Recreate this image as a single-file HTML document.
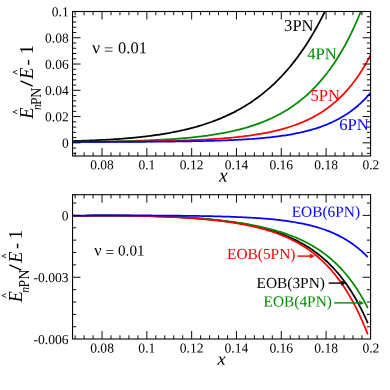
<!DOCTYPE html>
<html><head><meta charset="utf-8"><style>
html,body{margin:0;padding:0;background:#fff;}
svg{display:block;font-family:"Liberation Serif", serif;will-change:transform;}
</style></head><body>
<svg width="390" height="390" viewBox="0 0 390 390">
<rect width="390" height="390" fill="#fff"/>
<clipPath id="c1"><rect x="72.55" y="11.5" width="298.05" height="144.5"/></clipPath>
<clipPath id="c2"><rect x="72.55" y="194.7" width="298.05" height="144.3"/></clipPath>
<path d="M72.64,141.05 L74.14,141.01 L75.64,140.97 L77.14,140.93 L78.64,140.88 L80.14,140.84 L81.64,140.79 L83.13,140.74 L84.63,140.69 L86.13,140.63 L87.63,140.58 L89.13,140.52 L90.63,140.46 L92.13,140.40 L93.63,140.34 L95.13,140.27 L96.63,140.21 L98.13,140.14 L99.63,140.07 L101.13,139.99 L102.63,139.92 L104.12,139.84 L105.62,139.76 L107.12,139.67 L108.62,139.59 L110.12,139.50 L111.62,139.41 L113.12,139.31 L114.62,139.21 L116.12,139.11 L117.62,139.01 L119.12,138.90 L120.62,138.79 L122.12,138.68 L123.62,138.57 L125.11,138.45 L126.61,138.32 L128.11,138.20 L129.61,138.07 L131.11,137.93 L132.61,137.79 L134.11,137.65 L135.61,137.51 L137.11,137.36 L138.61,137.20 L140.11,137.04 L141.61,136.88 L143.11,136.71 L144.61,136.54 L146.11,136.36 L147.60,136.18 L149.10,136.00 L150.60,135.80 L152.10,135.61 L153.60,135.40 L155.10,135.20 L156.60,134.98 L158.10,134.76 L159.60,134.54 L161.10,134.31 L162.60,134.07 L164.10,133.83 L165.60,133.58 L167.10,133.32 L168.59,133.06 L170.09,132.79 L171.59,132.51 L173.09,132.23 L174.59,131.93 L176.09,131.64 L177.59,131.33 L179.09,131.01 L180.59,130.69 L182.09,130.36 L183.59,130.02 L185.09,129.67 L186.59,129.32 L188.09,128.95 L189.58,128.58 L191.08,128.19 L192.58,127.80 L194.08,127.40 L195.58,126.98 L197.08,126.56 L198.58,126.13 L200.08,125.68 L201.58,125.23 L203.08,124.76 L204.58,124.28 L206.08,123.79 L207.58,123.29 L209.08,122.78 L210.58,122.25 L212.07,121.71 L213.57,121.16 L215.07,120.60 L216.57,120.02 L218.07,119.42 L219.57,118.82 L221.07,118.20 L222.57,117.56 L224.07,116.91 L225.57,116.24 L227.07,115.56 L228.57,114.86 L230.07,114.14 L231.57,113.41 L233.06,112.66 L234.56,111.90 L236.06,111.11 L237.56,110.31 L239.06,109.48 L240.56,108.64 L242.06,107.78 L243.56,106.90 L245.06,106.00 L246.56,105.07 L248.06,104.13 L249.56,103.16 L251.06,102.17 L252.56,101.16 L254.05,100.13 L255.55,99.07 L257.05,97.98 L258.55,96.87 L260.05,95.74 L261.55,94.58 L263.05,93.39 L264.55,92.18 L266.05,90.93 L267.55,89.66 L269.05,88.36 L270.55,87.03 L272.05,85.67 L273.55,84.28 L275.04,82.86 L276.54,81.40 L278.04,79.91 L279.54,78.39 L281.04,76.83 L282.54,75.23 L284.04,73.60 L285.54,71.94 L287.04,70.23 L288.54,68.48 L290.04,66.70 L291.54,64.87 L293.04,63.01 L294.54,61.10 L296.04,59.14 L297.53,57.15 L299.03,55.10 L300.53,53.01 L302.03,50.87 L303.53,48.69 L305.03,46.45 L306.53,44.16 L308.03,41.82 L309.53,39.43 L311.03,36.98 L312.53,34.48 L314.03,31.92 L315.53,29.30 L317.03,26.62 L318.52,23.88 L320.02,21.07 L321.52,18.21 L323.02,15.27 L324.52,12.27 L326.02,9.20 L327.52,6.06 L329.02,2.85 L330.52,-0.44 L332.02,-3.80 L333.52,-7.24 L335.02,-10.75 L336.52,-14.35 L338.02,-18.04 L339.51,-21.80 L341.01,-25.66 L342.51,-29.60 L344.01,-33.64 L345.51,-37.77 L347.01,-41.99 L348.51,-46.32 L350.01,-50.74 L351.51,-55.27 L353.01,-59.90 L354.51,-64.64 L356.01,-69.49 L357.51,-74.46 L359.01,-79.54 L360.50,-84.74 L362.00,-90.07 L363.50,-95.52 L365.00,-101.10 L366.50,-106.81 L368.00,-112.65 L369.50,-118.64 L371.00,-124.76" fill="none" stroke="#000" stroke-width="1.75" stroke-linejoin="round" clip-path="url(#c1)"/>
<path d="M72.64,141.77 L74.14,141.76 L75.64,141.75 L77.14,141.74 L78.64,141.73 L80.14,141.72 L81.64,141.71 L83.13,141.70 L84.63,141.68 L86.13,141.67 L87.63,141.66 L89.13,141.64 L90.63,141.63 L92.13,141.61 L93.63,141.60 L95.13,141.58 L96.63,141.56 L98.13,141.54 L99.63,141.52 L101.13,141.50 L102.63,141.48 L104.12,141.46 L105.62,141.44 L107.12,141.42 L108.62,141.39 L110.12,141.37 L111.62,141.34 L113.12,141.32 L114.62,141.29 L116.12,141.26 L117.62,141.23 L119.12,141.20 L120.62,141.17 L122.12,141.14 L123.62,141.10 L125.11,141.07 L126.61,141.03 L128.11,140.99 L129.61,140.95 L131.11,140.91 L132.61,140.87 L134.11,140.83 L135.61,140.78 L137.11,140.74 L138.61,140.69 L140.11,140.64 L141.61,140.59 L143.11,140.53 L144.61,140.48 L146.11,140.42 L147.60,140.36 L149.10,140.30 L150.60,140.24 L152.10,140.17 L153.60,140.11 L155.10,140.04 L156.60,139.97 L158.10,139.89 L159.60,139.81 L161.10,139.74 L162.60,139.65 L164.10,139.57 L165.60,139.48 L167.10,139.39 L168.59,139.30 L170.09,139.21 L171.59,139.11 L173.09,139.01 L174.59,138.90 L176.09,138.79 L177.59,138.68 L179.09,138.57 L180.59,138.45 L182.09,138.32 L183.59,138.20 L185.09,138.07 L186.59,137.93 L188.09,137.80 L189.58,137.65 L191.08,137.51 L192.58,137.35 L194.08,137.20 L195.58,137.04 L197.08,136.87 L198.58,136.70 L200.08,136.53 L201.58,136.34 L203.08,136.16 L204.58,135.97 L206.08,135.77 L207.58,135.56 L209.08,135.35 L210.58,135.14 L212.07,134.91 L213.57,134.69 L215.07,134.45 L216.57,134.21 L218.07,133.96 L219.57,133.70 L221.07,133.43 L222.57,133.16 L224.07,132.88 L225.57,132.59 L227.07,132.29 L228.57,131.99 L230.07,131.67 L231.57,131.35 L233.06,131.01 L234.56,130.67 L236.06,130.32 L237.56,129.95 L239.06,129.58 L240.56,129.19 L242.06,128.80 L243.56,128.39 L245.06,127.97 L246.56,127.54 L248.06,127.10 L249.56,126.64 L251.06,126.17 L252.56,125.69 L254.05,125.19 L255.55,124.68 L257.05,124.16 L258.55,123.62 L260.05,123.06 L261.55,122.49 L263.05,121.90 L264.55,121.30 L266.05,120.68 L267.55,120.04 L269.05,119.38 L270.55,118.71 L272.05,118.01 L273.55,117.30 L275.04,116.56 L276.54,115.81 L278.04,115.03 L279.54,114.23 L281.04,113.41 L282.54,112.57 L284.04,111.70 L285.54,110.81 L287.04,109.89 L288.54,108.95 L290.04,107.98 L291.54,106.98 L293.04,105.96 L294.54,104.90 L296.04,103.82 L297.53,102.71 L299.03,101.56 L300.53,100.38 L302.03,99.17 L303.53,97.93 L305.03,96.65 L306.53,95.33 L308.03,93.98 L309.53,92.58 L311.03,91.15 L312.53,89.68 L314.03,88.17 L315.53,86.61 L317.03,85.02 L318.52,83.37 L320.02,81.68 L321.52,79.94 L323.02,78.15 L324.52,76.31 L326.02,74.42 L327.52,72.48 L329.02,70.48 L330.52,68.42 L332.02,66.30 L333.52,64.13 L335.02,61.89 L336.52,59.59 L338.02,57.22 L339.51,54.79 L341.01,52.28 L342.51,49.71 L344.01,47.06 L345.51,44.33 L347.01,41.53 L348.51,38.64 L350.01,35.67 L351.51,32.62 L353.01,29.48 L354.51,26.25 L356.01,22.92 L357.51,19.50 L359.01,15.98 L360.50,12.35 L362.00,8.62 L363.50,4.78 L365.00,0.83 L366.50,-3.23 L368.00,-7.42 L369.50,-11.73 L371.00,-16.16" fill="none" stroke="#008a00" stroke-width="1.75" stroke-linejoin="round" clip-path="url(#c1)"/>
<path d="M72.64,141.88 L74.14,141.87 L75.64,141.87 L77.14,141.86 L78.64,141.86 L80.14,141.86 L81.64,141.85 L83.13,141.85 L84.63,141.84 L86.13,141.84 L87.63,141.83 L89.13,141.83 L90.63,141.82 L92.13,141.81 L93.63,141.81 L95.13,141.80 L96.63,141.79 L98.13,141.79 L99.63,141.78 L101.13,141.77 L102.63,141.76 L104.12,141.76 L105.62,141.75 L107.12,141.74 L108.62,141.73 L110.12,141.72 L111.62,141.71 L113.12,141.70 L114.62,141.69 L116.12,141.68 L117.62,141.67 L119.12,141.66 L120.62,141.64 L122.12,141.63 L123.62,141.62 L125.11,141.61 L126.61,141.59 L128.11,141.58 L129.61,141.56 L131.11,141.55 L132.61,141.53 L134.11,141.51 L135.61,141.50 L137.11,141.48 L138.61,141.46 L140.11,141.44 L141.61,141.42 L143.11,141.40 L144.61,141.38 L146.11,141.36 L147.60,141.33 L149.10,141.31 L150.60,141.29 L152.10,141.26 L153.60,141.24 L155.10,141.21 L156.60,141.18 L158.10,141.15 L159.60,141.12 L161.10,141.09 L162.60,141.06 L164.10,141.03 L165.60,140.99 L167.10,140.96 L168.59,140.92 L170.09,140.88 L171.59,140.85 L173.09,140.81 L174.59,140.76 L176.09,140.72 L177.59,140.68 L179.09,140.63 L180.59,140.58 L182.09,140.54 L183.59,140.49 L185.09,140.43 L186.59,140.38 L188.09,140.32 L189.58,140.27 L191.08,140.21 L192.58,140.15 L194.08,140.08 L195.58,140.02 L197.08,139.95 L198.58,139.88 L200.08,139.81 L201.58,139.74 L203.08,139.66 L204.58,139.58 L206.08,139.50 L207.58,139.42 L209.08,139.33 L210.58,139.24 L212.07,139.15 L213.57,139.05 L215.07,138.96 L216.57,138.85 L218.07,138.75 L219.57,138.64 L221.07,138.53 L222.57,138.41 L224.07,138.30 L225.57,138.17 L227.07,138.05 L228.57,137.92 L230.07,137.78 L231.57,137.64 L233.06,137.50 L234.56,137.35 L236.06,137.20 L237.56,137.04 L239.06,136.88 L240.56,136.71 L242.06,136.53 L243.56,136.36 L245.06,136.17 L246.56,135.98 L248.06,135.78 L249.56,135.58 L251.06,135.37 L252.56,135.15 L254.05,134.93 L255.55,134.70 L257.05,134.46 L258.55,134.22 L260.05,133.96 L261.55,133.70 L263.05,133.43 L264.55,133.16 L266.05,132.87 L267.55,132.57 L269.05,132.27 L270.55,131.95 L272.05,131.62 L273.55,131.29 L275.04,130.94 L276.54,130.58 L278.04,130.21 L279.54,129.83 L281.04,129.43 L282.54,129.03 L284.04,128.61 L285.54,128.17 L287.04,127.72 L288.54,127.26 L290.04,126.78 L291.54,126.29 L293.04,125.78 L294.54,125.26 L296.04,124.71 L297.53,124.15 L299.03,123.57 L300.53,122.98 L302.03,122.36 L303.53,121.72 L305.03,121.06 L306.53,120.38 L308.03,119.68 L309.53,118.95 L311.03,118.20 L312.53,117.43 L314.03,116.63 L315.53,115.80 L317.03,114.95 L318.52,114.06 L320.02,113.15 L321.52,112.21 L323.02,111.23 L324.52,110.23 L326.02,109.19 L327.52,108.11 L329.02,107.00 L330.52,105.85 L332.02,104.66 L333.52,103.43 L335.02,102.16 L336.52,100.85 L338.02,99.49 L339.51,98.09 L341.01,96.63 L342.51,95.13 L344.01,93.58 L345.51,91.97 L347.01,90.31 L348.51,88.59 L350.01,86.81 L351.51,84.96 L353.01,83.06 L354.51,81.09 L356.01,79.04 L357.51,76.93 L359.01,74.74 L360.50,72.48 L362.00,70.14 L363.50,67.71 L365.00,65.20 L366.50,62.59 L368.00,59.90 L369.50,57.11 L371.00,54.21" fill="none" stroke="#ff0000" stroke-width="1.75" stroke-linejoin="round" clip-path="url(#c1)"/>
<path d="M72.64,141.93 L74.14,141.93 L75.64,141.93 L77.14,141.93 L78.64,141.93 L80.14,141.93 L81.64,141.92 L83.13,141.92 L84.63,141.92 L86.13,141.92 L87.63,141.92 L89.13,141.92 L90.63,141.91 L92.13,141.91 L93.63,141.91 L95.13,141.91 L96.63,141.91 L98.13,141.90 L99.63,141.90 L101.13,141.90 L102.63,141.90 L104.12,141.89 L105.62,141.89 L107.12,141.89 L108.62,141.89 L110.12,141.88 L111.62,141.88 L113.12,141.88 L114.62,141.87 L116.12,141.87 L117.62,141.86 L119.12,141.86 L120.62,141.86 L122.12,141.85 L123.62,141.85 L125.11,141.84 L126.61,141.84 L128.11,141.83 L129.61,141.83 L131.11,141.82 L132.61,141.82 L134.11,141.81 L135.61,141.80 L137.11,141.80 L138.61,141.79 L140.11,141.78 L141.61,141.77 L143.11,141.77 L144.61,141.76 L146.11,141.75 L147.60,141.74 L149.10,141.73 L150.60,141.72 L152.10,141.71 L153.60,141.70 L155.10,141.69 L156.60,141.68 L158.10,141.67 L159.60,141.66 L161.10,141.65 L162.60,141.63 L164.10,141.62 L165.60,141.61 L167.10,141.59 L168.59,141.58 L170.09,141.56 L171.59,141.55 L173.09,141.53 L174.59,141.51 L176.09,141.50 L177.59,141.48 L179.09,141.46 L180.59,141.44 L182.09,141.42 L183.59,141.40 L185.09,141.38 L186.59,141.35 L188.09,141.33 L189.58,141.30 L191.08,141.28 L192.58,141.25 L194.08,141.22 L195.58,141.20 L197.08,141.17 L198.58,141.14 L200.08,141.10 L201.58,141.07 L203.08,141.04 L204.58,141.00 L206.08,140.97 L207.58,140.93 L209.08,140.89 L210.58,140.85 L212.07,140.81 L213.57,140.76 L215.07,140.72 L216.57,140.67 L218.07,140.62 L219.57,140.57 L221.07,140.52 L222.57,140.47 L224.07,140.41 L225.57,140.36 L227.07,140.30 L228.57,140.23 L230.07,140.17 L231.57,140.10 L233.06,140.04 L234.56,139.96 L236.06,139.89 L237.56,139.82 L239.06,139.74 L240.56,139.66 L242.06,139.57 L243.56,139.48 L245.06,139.39 L246.56,139.30 L248.06,139.20 L249.56,139.10 L251.06,139.00 L252.56,138.89 L254.05,138.78 L255.55,138.67 L257.05,138.55 L258.55,138.42 L260.05,138.30 L261.55,138.16 L263.05,138.03 L264.55,137.88 L266.05,137.74 L267.55,137.59 L269.05,137.43 L270.55,137.27 L272.05,137.10 L273.55,136.92 L275.04,136.74 L276.54,136.56 L278.04,136.36 L279.54,136.16 L281.04,135.96 L282.54,135.74 L284.04,135.52 L285.54,135.29 L287.04,135.05 L288.54,134.81 L290.04,134.55 L291.54,134.29 L293.04,134.02 L294.54,133.73 L296.04,133.44 L297.53,133.14 L299.03,132.82 L300.53,132.50 L302.03,132.16 L303.53,131.81 L305.03,131.45 L306.53,131.08 L308.03,130.69 L309.53,130.29 L311.03,129.88 L312.53,129.45 L314.03,129.00 L315.53,128.54 L317.03,128.06 L318.52,127.57 L320.02,127.06 L321.52,126.53 L323.02,125.98 L324.52,125.41 L326.02,124.82 L327.52,124.21 L329.02,123.57 L330.52,122.92 L332.02,122.24 L333.52,121.53 L335.02,120.80 L336.52,120.04 L338.02,119.26 L339.51,118.45 L341.01,117.60 L342.51,116.73 L344.01,115.82 L345.51,114.88 L347.01,113.91 L348.51,112.90 L350.01,111.85 L351.51,110.77 L353.01,109.64 L354.51,108.47 L356.01,107.26 L357.51,106.00 L359.01,104.70 L360.50,103.35 L362.00,101.94 L363.50,100.49 L365.00,98.98 L366.50,97.41 L368.00,95.78 L369.50,94.09 L371.00,92.34" fill="none" stroke="#0000ff" stroke-width="1.75" stroke-linejoin="round" clip-path="url(#c1)"/>
<path d="M72.64,215.90 L74.12,215.87 L75.61,215.85 L77.09,215.83 L78.57,215.82 L80.06,215.80 L81.54,215.78 L83.02,215.76 L84.51,215.75 L85.99,215.73 L87.47,215.72 L88.96,215.70 L90.44,215.69 L91.92,215.68 L93.41,215.67 L94.89,215.66 L96.37,215.65 L97.86,215.64 L99.34,215.64 L100.82,215.63 L102.31,215.62 L103.79,215.62 L105.27,215.62 L106.75,215.61 L108.24,215.61 L109.72,215.61 L111.20,215.61 L112.69,215.61 L114.17,215.62 L115.65,215.62 L117.14,215.63 L118.62,215.63 L120.10,215.64 L121.59,215.65 L123.07,215.66 L124.55,215.67 L126.04,215.68 L127.52,215.69 L129.00,215.71 L130.49,215.72 L131.97,215.74 L133.45,215.76 L134.94,215.78 L136.42,215.80 L137.90,215.82 L139.39,215.85 L140.87,215.87 L142.35,215.90 L143.84,215.93 L145.32,215.96 L146.80,215.99 L148.29,216.02 L149.77,216.06 L151.25,216.09 L152.74,216.13 L154.22,216.17 L155.70,216.21 L157.19,216.26 L158.67,216.30 L160.15,216.35 L161.64,216.40 L163.12,216.45 L164.60,216.51 L166.09,216.56 L167.57,216.62 L169.05,216.68 L170.54,216.74 L172.02,216.81 L173.50,216.87 L174.99,216.94 L176.47,217.01 L177.95,217.09 L179.44,217.17 L180.92,217.24 L182.40,217.33 L183.89,217.41 L185.37,217.50 L186.85,217.59 L188.34,217.68 L189.82,217.78 L191.30,217.88 L192.79,217.98 L194.27,218.09 L195.75,218.20 L197.23,218.31 L198.72,218.43 L200.20,218.55 L201.68,218.67 L203.17,218.80 L204.65,218.93 L206.13,219.07 L207.62,219.20 L209.10,219.35 L210.58,219.49 L212.07,219.64 L213.55,219.80 L215.03,219.96 L216.52,220.12 L218.00,220.29 L219.48,220.46 L220.97,220.64 L222.45,220.82 L223.93,221.01 L225.42,221.20 L226.90,221.40 L228.38,221.61 L229.87,221.81 L231.35,222.03 L232.83,222.25 L234.32,222.48 L235.80,222.71 L237.28,222.95 L238.77,223.19 L240.25,223.44 L241.73,223.70 L243.22,223.97 L244.70,224.24 L246.18,224.52 L247.67,224.81 L249.15,225.11 L250.63,225.41 L252.12,225.72 L253.60,226.04 L255.08,226.37 L256.57,226.71 L258.05,227.06 L259.53,227.42 L261.02,227.79 L262.50,228.17 L263.98,228.56 L265.47,228.96 L266.95,229.37 L268.43,229.79 L269.92,230.23 L271.40,230.68 L272.88,231.14 L274.37,231.61 L275.85,232.10 L277.33,232.60 L278.82,233.11 L280.30,233.64 L281.78,234.19 L283.27,234.75 L284.75,235.33 L286.23,235.93 L287.72,236.54 L289.20,237.17 L290.68,237.82 L292.16,238.49 L293.65,239.18 L295.13,239.89 L296.61,240.62 L298.10,241.37 L299.58,242.15 L301.06,242.95 L302.55,243.77 L304.03,244.62 L305.51,245.50 L307.00,246.40 L308.48,247.33 L309.96,248.28 L311.45,249.27 L312.93,250.29 L314.41,251.34 L315.90,252.42 L317.38,253.54 L318.86,254.69 L320.35,255.87 L321.83,257.10 L323.31,258.36 L324.80,259.66 L326.28,261.01 L327.76,262.40 L329.25,263.83 L330.73,265.31 L332.21,266.83 L333.70,268.41 L335.18,270.03 L336.66,271.71 L338.15,273.44 L339.63,275.23 L341.11,277.08 L342.60,278.98 L344.08,280.95 L345.56,282.99 L347.05,285.09 L348.53,287.26 L350.01,289.50 L351.50,291.82 L352.98,294.22 L354.46,296.69 L355.95,299.25 L357.43,301.90 L358.91,304.63 L360.40,307.45 L361.88,310.38 L363.36,313.40 L364.85,316.52 L366.33,319.75 L367.81,323.09" fill="none" stroke="#000" stroke-width="1.75" stroke-linejoin="round" clip-path="url(#c2)"/>
<path d="M72.64,215.86 L74.12,215.85 L75.61,215.83 L77.09,215.82 L78.57,215.81 L80.06,215.80 L81.54,215.79 L83.02,215.78 L84.51,215.77 L85.99,215.76 L87.47,215.75 L88.96,215.74 L90.44,215.74 L91.92,215.73 L93.41,215.72 L94.89,215.72 L96.37,215.71 L97.86,215.71 L99.34,215.71 L100.82,215.71 L102.31,215.71 L103.79,215.70 L105.27,215.70 L106.75,215.71 L108.24,215.71 L109.72,215.71 L111.20,215.71 L112.69,215.72 L114.17,215.72 L115.65,215.73 L117.14,215.74 L118.62,215.75 L120.10,215.75 L121.59,215.76 L123.07,215.78 L124.55,215.79 L126.04,215.80 L127.52,215.82 L129.00,215.83 L130.49,215.85 L131.97,215.87 L133.45,215.88 L134.94,215.90 L136.42,215.93 L137.90,215.95 L139.39,215.97 L140.87,216.00 L142.35,216.02 L143.84,216.05 L145.32,216.08 L146.80,216.11 L148.29,216.14 L149.77,216.18 L151.25,216.21 L152.74,216.25 L154.22,216.28 L155.70,216.32 L157.19,216.37 L158.67,216.41 L160.15,216.45 L161.64,216.50 L163.12,216.55 L164.60,216.60 L166.09,216.65 L167.57,216.70 L169.05,216.76 L170.54,216.82 L172.02,216.88 L173.50,216.94 L174.99,217.00 L176.47,217.07 L177.95,217.14 L179.44,217.21 L180.92,217.28 L182.40,217.36 L183.89,217.44 L185.37,217.52 L186.85,217.60 L188.34,217.69 L189.82,217.78 L191.30,217.87 L192.79,217.97 L194.27,218.06 L195.75,218.16 L197.23,218.27 L198.72,218.38 L200.20,218.49 L201.68,218.60 L203.17,218.72 L204.65,218.84 L206.13,218.96 L207.62,219.09 L209.10,219.22 L210.58,219.36 L212.07,219.50 L213.55,219.64 L215.03,219.79 L216.52,219.94 L218.00,220.10 L219.48,220.26 L220.97,220.42 L222.45,220.59 L223.93,220.76 L225.42,220.94 L226.90,221.12 L228.38,221.31 L229.87,221.50 L231.35,221.70 L232.83,221.90 L234.32,222.11 L235.80,222.32 L237.28,222.53 L238.77,222.76 L240.25,222.99 L241.73,223.22 L243.22,223.46 L244.70,223.71 L246.18,223.96 L247.67,224.22 L249.15,224.48 L250.63,224.76 L252.12,225.03 L253.60,225.32 L255.08,225.61 L256.57,225.92 L258.05,226.22 L259.53,226.54 L261.02,226.87 L262.50,227.20 L263.98,227.54 L265.47,227.89 L266.95,228.25 L268.43,228.62 L269.92,229.00 L271.40,229.39 L272.88,229.79 L274.37,230.20 L275.85,230.62 L277.33,231.05 L278.82,231.50 L280.30,231.96 L281.78,232.43 L283.27,232.91 L284.75,233.41 L286.23,233.92 L287.72,234.44 L289.20,234.98 L290.68,235.53 L292.16,236.10 L293.65,236.69 L295.13,237.29 L296.61,237.92 L298.10,238.55 L299.58,239.21 L301.06,239.89 L302.55,240.59 L304.03,241.31 L305.51,242.05 L307.00,242.81 L308.48,243.59 L309.96,244.40 L311.45,245.23 L312.93,246.09 L314.41,246.98 L315.90,247.89 L317.38,248.83 L318.86,249.80 L320.35,250.80 L321.83,251.84 L323.31,252.90 L324.80,254.00 L326.28,255.13 L327.76,256.30 L329.25,257.51 L330.73,258.76 L332.21,260.05 L333.70,261.38 L335.18,262.75 L336.66,264.17 L338.15,265.63 L339.63,267.15 L341.11,268.71 L342.60,270.33 L344.08,272.00 L345.56,273.72 L347.05,275.51 L348.53,277.35 L350.01,279.26 L351.50,281.24 L352.98,283.28 L354.46,285.39 L355.95,287.57 L357.43,289.83 L358.91,292.17 L360.40,294.59 L361.88,297.10 L363.36,299.69 L364.85,302.38 L366.33,305.16 L367.81,308.04" fill="none" stroke="#008a00" stroke-width="1.75" stroke-linejoin="round" clip-path="url(#c2)"/>
<path d="M72.64,215.95 L74.12,215.92 L75.61,215.89 L77.09,215.86 L78.57,215.84 L80.06,215.82 L81.54,215.80 L83.02,215.77 L84.51,215.75 L85.99,215.74 L87.47,215.72 L88.96,215.70 L90.44,215.69 L91.92,215.68 L93.41,215.67 L94.89,215.66 L96.37,215.65 L97.86,215.64 L99.34,215.63 L100.82,215.63 L102.31,215.62 L103.79,215.62 L105.27,215.62 L106.75,215.62 L108.24,215.62 L109.72,215.62 L111.20,215.63 L112.69,215.63 L114.17,215.64 L115.65,215.65 L117.14,215.66 L118.62,215.67 L120.10,215.68 L121.59,215.69 L123.07,215.71 L124.55,215.72 L126.04,215.74 L127.52,215.76 L129.00,215.78 L130.49,215.80 L131.97,215.82 L133.45,215.85 L134.94,215.87 L136.42,215.90 L137.90,215.93 L139.39,215.96 L140.87,215.99 L142.35,216.03 L143.84,216.06 L145.32,216.10 L146.80,216.14 L148.29,216.18 L149.77,216.22 L151.25,216.26 L152.74,216.31 L154.22,216.36 L155.70,216.40 L157.19,216.45 L158.67,216.51 L160.15,216.56 L161.64,216.62 L163.12,216.67 L164.60,216.73 L166.09,216.80 L167.57,216.86 L169.05,216.93 L170.54,216.99 L172.02,217.06 L173.50,217.14 L174.99,217.21 L176.47,217.29 L177.95,217.37 L179.44,217.45 L180.92,217.53 L182.40,217.62 L183.89,217.71 L185.37,217.80 L186.85,217.90 L188.34,217.99 L189.82,218.09 L191.30,218.20 L192.79,218.30 L194.27,218.41 L195.75,218.52 L197.23,218.64 L198.72,218.76 L200.20,218.88 L201.68,219.01 L203.17,219.14 L204.65,219.27 L206.13,219.41 L207.62,219.55 L209.10,219.69 L210.58,219.84 L212.07,219.99 L213.55,220.15 L215.03,220.31 L216.52,220.48 L218.00,220.65 L219.48,220.82 L220.97,221.00 L222.45,221.19 L223.93,221.38 L225.42,221.58 L226.90,221.78 L228.38,221.99 L229.87,222.20 L231.35,222.42 L232.83,222.65 L234.32,222.88 L235.80,223.12 L237.28,223.36 L238.77,223.62 L240.25,223.88 L241.73,224.14 L243.22,224.42 L244.70,224.70 L246.18,224.99 L247.67,225.29 L249.15,225.60 L250.63,225.92 L252.12,226.25 L253.60,226.58 L255.08,226.93 L256.57,227.29 L258.05,227.66 L259.53,228.03 L261.02,228.42 L262.50,228.82 L263.98,229.24 L265.47,229.66 L266.95,230.10 L268.43,230.55 L269.92,231.01 L271.40,231.49 L272.88,231.98 L274.37,232.49 L275.85,233.01 L277.33,233.55 L278.82,234.11 L280.30,234.68 L281.78,235.27 L283.27,235.87 L284.75,236.50 L286.23,237.15 L287.72,237.81 L289.20,238.50 L290.68,239.20 L292.16,239.93 L293.65,240.68 L295.13,241.45 L296.61,242.25 L298.10,243.08 L299.58,243.92 L301.06,244.80 L302.55,245.70 L304.03,246.63 L305.51,247.59 L307.00,248.59 L308.48,249.61 L309.96,250.66 L311.45,251.75 L312.93,252.87 L314.41,254.03 L315.90,255.23 L317.38,256.46 L318.86,257.74 L320.35,259.05 L321.83,260.41 L323.31,261.81 L324.80,263.26 L326.28,264.76 L327.76,266.30 L329.25,267.89 L330.73,269.54 L332.21,271.24 L333.70,272.99 L335.18,274.81 L336.66,276.68 L338.15,278.61 L339.63,280.61 L341.11,282.68 L342.60,284.82 L344.08,287.02 L345.56,289.30 L347.05,291.66 L348.53,294.09 L350.01,296.61 L351.50,299.22 L352.98,301.91 L354.46,304.69 L355.95,307.57 L357.43,310.54 L358.91,313.62 L360.40,316.81 L361.88,320.10 L363.36,323.51 L364.85,327.03 L366.33,330.68 L367.81,334.45" fill="none" stroke="#ff0000" stroke-width="1.75" stroke-linejoin="round" clip-path="url(#c2)"/>
<path d="M72.64,215.63 L74.12,215.62 L75.61,215.60 L77.09,215.59 L78.57,215.58 L80.06,215.57 L81.54,215.56 L83.02,215.55 L84.51,215.54 L85.99,215.53 L87.47,215.52 L88.96,215.51 L90.44,215.50 L91.92,215.49 L93.41,215.48 L94.89,215.48 L96.37,215.47 L97.86,215.46 L99.34,215.46 L100.82,215.45 L102.31,215.45 L103.79,215.44 L105.27,215.44 L106.75,215.43 L108.24,215.43 L109.72,215.43 L111.20,215.43 L112.69,215.42 L114.17,215.42 L115.65,215.42 L117.14,215.42 L118.62,215.42 L120.10,215.42 L121.59,215.42 L123.07,215.42 L124.55,215.42 L126.04,215.42 L127.52,215.42 L129.00,215.42 L130.49,215.42 L131.97,215.43 L133.45,215.43 L134.94,215.43 L136.42,215.44 L137.90,215.44 L139.39,215.44 L140.87,215.45 L142.35,215.45 L143.84,215.46 L145.32,215.47 L146.80,215.47 L148.29,215.48 L149.77,215.49 L151.25,215.49 L152.74,215.50 L154.22,215.51 L155.70,215.52 L157.19,215.53 L158.67,215.54 L160.15,215.54 L161.64,215.55 L163.12,215.57 L164.60,215.58 L166.09,215.59 L167.57,215.60 L169.05,215.61 L170.54,215.63 L172.02,215.64 L173.50,215.65 L174.99,215.67 L176.47,215.68 L177.95,215.70 L179.44,215.71 L180.92,215.73 L182.40,215.75 L183.89,215.76 L185.37,215.78 L186.85,215.80 L188.34,215.82 L189.82,215.84 L191.30,215.86 L192.79,215.88 L194.27,215.91 L195.75,215.93 L197.23,215.95 L198.72,215.98 L200.20,216.00 L201.68,216.03 L203.17,216.06 L204.65,216.08 L206.13,216.11 L207.62,216.14 L209.10,216.17 L210.58,216.21 L212.07,216.24 L213.55,216.27 L215.03,216.31 L216.52,216.35 L218.00,216.38 L219.48,216.42 L220.97,216.46 L222.45,216.51 L223.93,216.55 L225.42,216.60 L226.90,216.64 L228.38,216.69 L229.87,216.74 L231.35,216.79 L232.83,216.85 L234.32,216.90 L235.80,216.96 L237.28,217.02 L238.77,217.08 L240.25,217.15 L241.73,217.21 L243.22,217.28 L244.70,217.35 L246.18,217.43 L247.67,217.51 L249.15,217.58 L250.63,217.67 L252.12,217.75 L253.60,217.84 L255.08,217.93 L256.57,218.03 L258.05,218.13 L259.53,218.23 L261.02,218.34 L262.50,218.45 L263.98,218.56 L265.47,218.68 L266.95,218.80 L268.43,218.93 L269.92,219.07 L271.40,219.20 L272.88,219.35 L274.37,219.49 L275.85,219.65 L277.33,219.81 L278.82,219.97 L280.30,220.14 L281.78,220.32 L283.27,220.51 L284.75,220.70 L286.23,220.90 L287.72,221.10 L289.20,221.32 L290.68,221.54 L292.16,221.77 L293.65,222.01 L295.13,222.26 L296.61,222.52 L298.10,222.78 L299.58,223.06 L301.06,223.35 L302.55,223.65 L304.03,223.96 L305.51,224.28 L307.00,224.61 L308.48,224.96 L309.96,225.32 L311.45,225.69 L312.93,226.08 L314.41,226.48 L315.90,226.90 L317.38,227.33 L318.86,227.78 L320.35,228.24 L321.83,228.72 L323.31,229.22 L324.80,229.74 L326.28,230.28 L327.76,230.84 L329.25,231.42 L330.73,232.02 L332.21,232.65 L333.70,233.29 L335.18,233.96 L336.66,234.66 L338.15,235.38 L339.63,236.13 L341.11,236.91 L342.60,237.72 L344.08,238.55 L345.56,239.42 L347.05,240.32 L348.53,241.25 L350.01,242.22 L351.50,243.23 L352.98,244.27 L354.46,245.35 L355.95,246.47 L357.43,247.63 L358.91,248.84 L360.40,250.09 L361.88,251.39 L363.36,252.73 L364.85,254.13 L366.33,255.57 L367.81,257.08" fill="none" stroke="#0000ff" stroke-width="1.75" stroke-linejoin="round" clip-path="url(#c2)"/>
<line x1="75.15" y1="156.00" x2="75.15" y2="152.30" stroke="#000" stroke-width="0.95"/>
<line x1="75.15" y1="11.50" x2="75.15" y2="15.20" stroke="#000" stroke-width="0.95"/>
<line x1="84.12" y1="156.00" x2="84.12" y2="152.30" stroke="#000" stroke-width="0.95"/>
<line x1="84.12" y1="11.50" x2="84.12" y2="15.20" stroke="#000" stroke-width="0.95"/>
<line x1="93.08" y1="156.00" x2="93.08" y2="152.30" stroke="#000" stroke-width="0.95"/>
<line x1="93.08" y1="11.50" x2="93.08" y2="15.20" stroke="#000" stroke-width="0.95"/>
<line x1="102.04" y1="156.00" x2="102.04" y2="148.00" stroke="#000" stroke-width="0.95"/>
<line x1="102.04" y1="11.50" x2="102.04" y2="19.50" stroke="#000" stroke-width="0.95"/>
<text x="102.04" y="169.30" font-size="13.5" text-anchor="middle" fill="#000"  transform="rotate(0.03 102.04 169.30)" style="">0.08</text>
<line x1="111.00" y1="156.00" x2="111.00" y2="152.30" stroke="#000" stroke-width="0.95"/>
<line x1="111.00" y1="11.50" x2="111.00" y2="15.20" stroke="#000" stroke-width="0.95"/>
<line x1="119.96" y1="156.00" x2="119.96" y2="152.30" stroke="#000" stroke-width="0.95"/>
<line x1="119.96" y1="11.50" x2="119.96" y2="15.20" stroke="#000" stroke-width="0.95"/>
<line x1="128.93" y1="156.00" x2="128.93" y2="152.30" stroke="#000" stroke-width="0.95"/>
<line x1="128.93" y1="11.50" x2="128.93" y2="15.20" stroke="#000" stroke-width="0.95"/>
<line x1="137.89" y1="156.00" x2="137.89" y2="152.30" stroke="#000" stroke-width="0.95"/>
<line x1="137.89" y1="11.50" x2="137.89" y2="15.20" stroke="#000" stroke-width="0.95"/>
<line x1="146.85" y1="156.00" x2="146.85" y2="148.00" stroke="#000" stroke-width="0.95"/>
<line x1="146.85" y1="11.50" x2="146.85" y2="19.50" stroke="#000" stroke-width="0.95"/>
<text x="146.85" y="169.30" font-size="13.5" text-anchor="middle" fill="#000"  transform="rotate(0.03 146.85 169.30)" style="">0.1</text>
<line x1="155.81" y1="156.00" x2="155.81" y2="152.30" stroke="#000" stroke-width="0.95"/>
<line x1="155.81" y1="11.50" x2="155.81" y2="15.20" stroke="#000" stroke-width="0.95"/>
<line x1="164.77" y1="156.00" x2="164.77" y2="152.30" stroke="#000" stroke-width="0.95"/>
<line x1="164.77" y1="11.50" x2="164.77" y2="15.20" stroke="#000" stroke-width="0.95"/>
<line x1="173.74" y1="156.00" x2="173.74" y2="152.30" stroke="#000" stroke-width="0.95"/>
<line x1="173.74" y1="11.50" x2="173.74" y2="15.20" stroke="#000" stroke-width="0.95"/>
<line x1="182.70" y1="156.00" x2="182.70" y2="152.30" stroke="#000" stroke-width="0.95"/>
<line x1="182.70" y1="11.50" x2="182.70" y2="15.20" stroke="#000" stroke-width="0.95"/>
<line x1="191.66" y1="156.00" x2="191.66" y2="148.00" stroke="#000" stroke-width="0.95"/>
<line x1="191.66" y1="11.50" x2="191.66" y2="19.50" stroke="#000" stroke-width="0.95"/>
<text x="191.66" y="169.30" font-size="13.5" text-anchor="middle" fill="#000"  transform="rotate(0.03 191.66 169.30)" style="">0.12</text>
<line x1="200.62" y1="156.00" x2="200.62" y2="152.30" stroke="#000" stroke-width="0.95"/>
<line x1="200.62" y1="11.50" x2="200.62" y2="15.20" stroke="#000" stroke-width="0.95"/>
<line x1="209.58" y1="156.00" x2="209.58" y2="152.30" stroke="#000" stroke-width="0.95"/>
<line x1="209.58" y1="11.50" x2="209.58" y2="15.20" stroke="#000" stroke-width="0.95"/>
<line x1="218.55" y1="156.00" x2="218.55" y2="152.30" stroke="#000" stroke-width="0.95"/>
<line x1="218.55" y1="11.50" x2="218.55" y2="15.20" stroke="#000" stroke-width="0.95"/>
<line x1="227.51" y1="156.00" x2="227.51" y2="152.30" stroke="#000" stroke-width="0.95"/>
<line x1="227.51" y1="11.50" x2="227.51" y2="15.20" stroke="#000" stroke-width="0.95"/>
<line x1="236.47" y1="156.00" x2="236.47" y2="148.00" stroke="#000" stroke-width="0.95"/>
<line x1="236.47" y1="11.50" x2="236.47" y2="19.50" stroke="#000" stroke-width="0.95"/>
<text x="236.47" y="169.30" font-size="13.5" text-anchor="middle" fill="#000"  transform="rotate(0.03 236.47 169.30)" style="">0.14</text>
<line x1="245.43" y1="156.00" x2="245.43" y2="152.30" stroke="#000" stroke-width="0.95"/>
<line x1="245.43" y1="11.50" x2="245.43" y2="15.20" stroke="#000" stroke-width="0.95"/>
<line x1="254.39" y1="156.00" x2="254.39" y2="152.30" stroke="#000" stroke-width="0.95"/>
<line x1="254.39" y1="11.50" x2="254.39" y2="15.20" stroke="#000" stroke-width="0.95"/>
<line x1="263.36" y1="156.00" x2="263.36" y2="152.30" stroke="#000" stroke-width="0.95"/>
<line x1="263.36" y1="11.50" x2="263.36" y2="15.20" stroke="#000" stroke-width="0.95"/>
<line x1="272.32" y1="156.00" x2="272.32" y2="152.30" stroke="#000" stroke-width="0.95"/>
<line x1="272.32" y1="11.50" x2="272.32" y2="15.20" stroke="#000" stroke-width="0.95"/>
<line x1="281.28" y1="156.00" x2="281.28" y2="148.00" stroke="#000" stroke-width="0.95"/>
<line x1="281.28" y1="11.50" x2="281.28" y2="19.50" stroke="#000" stroke-width="0.95"/>
<text x="281.28" y="169.30" font-size="13.5" text-anchor="middle" fill="#000"  transform="rotate(0.03 281.28 169.30)" style="">0.16</text>
<line x1="290.24" y1="156.00" x2="290.24" y2="152.30" stroke="#000" stroke-width="0.95"/>
<line x1="290.24" y1="11.50" x2="290.24" y2="15.20" stroke="#000" stroke-width="0.95"/>
<line x1="299.20" y1="156.00" x2="299.20" y2="152.30" stroke="#000" stroke-width="0.95"/>
<line x1="299.20" y1="11.50" x2="299.20" y2="15.20" stroke="#000" stroke-width="0.95"/>
<line x1="308.17" y1="156.00" x2="308.17" y2="152.30" stroke="#000" stroke-width="0.95"/>
<line x1="308.17" y1="11.50" x2="308.17" y2="15.20" stroke="#000" stroke-width="0.95"/>
<line x1="317.13" y1="156.00" x2="317.13" y2="152.30" stroke="#000" stroke-width="0.95"/>
<line x1="317.13" y1="11.50" x2="317.13" y2="15.20" stroke="#000" stroke-width="0.95"/>
<line x1="326.09" y1="156.00" x2="326.09" y2="148.00" stroke="#000" stroke-width="0.95"/>
<line x1="326.09" y1="11.50" x2="326.09" y2="19.50" stroke="#000" stroke-width="0.95"/>
<text x="326.09" y="169.30" font-size="13.5" text-anchor="middle" fill="#000"  transform="rotate(0.03 326.09 169.30)" style="">0.18</text>
<line x1="335.05" y1="156.00" x2="335.05" y2="152.30" stroke="#000" stroke-width="0.95"/>
<line x1="335.05" y1="11.50" x2="335.05" y2="15.20" stroke="#000" stroke-width="0.95"/>
<line x1="344.01" y1="156.00" x2="344.01" y2="152.30" stroke="#000" stroke-width="0.95"/>
<line x1="344.01" y1="11.50" x2="344.01" y2="15.20" stroke="#000" stroke-width="0.95"/>
<line x1="352.98" y1="156.00" x2="352.98" y2="152.30" stroke="#000" stroke-width="0.95"/>
<line x1="352.98" y1="11.50" x2="352.98" y2="15.20" stroke="#000" stroke-width="0.95"/>
<line x1="361.94" y1="156.00" x2="361.94" y2="152.30" stroke="#000" stroke-width="0.95"/>
<line x1="361.94" y1="11.50" x2="361.94" y2="15.20" stroke="#000" stroke-width="0.95"/>
<text x="370.90" y="169.30" font-size="13.5" text-anchor="middle" fill="#000"  transform="rotate(0.03 370.90 169.30)" style="">0.2</text>
<line x1="72.55" y1="153.36" x2="76.25" y2="153.36" stroke="#000" stroke-width="0.95"/>
<line x1="370.60" y1="153.36" x2="366.90" y2="153.36" stroke="#000" stroke-width="0.95"/>
<line x1="72.55" y1="148.10" x2="76.25" y2="148.10" stroke="#000" stroke-width="0.95"/>
<line x1="370.60" y1="148.10" x2="366.90" y2="148.10" stroke="#000" stroke-width="0.95"/>
<line x1="72.55" y1="142.85" x2="80.55" y2="142.85" stroke="#000" stroke-width="0.95"/>
<line x1="370.60" y1="142.85" x2="362.60" y2="142.85" stroke="#000" stroke-width="0.95"/>
<line x1="72.55" y1="137.60" x2="76.25" y2="137.60" stroke="#000" stroke-width="0.95"/>
<line x1="370.60" y1="137.60" x2="366.90" y2="137.60" stroke="#000" stroke-width="0.95"/>
<line x1="72.55" y1="132.34" x2="76.25" y2="132.34" stroke="#000" stroke-width="0.95"/>
<line x1="370.60" y1="132.34" x2="366.90" y2="132.34" stroke="#000" stroke-width="0.95"/>
<line x1="72.55" y1="127.09" x2="76.25" y2="127.09" stroke="#000" stroke-width="0.95"/>
<line x1="370.60" y1="127.09" x2="366.90" y2="127.09" stroke="#000" stroke-width="0.95"/>
<line x1="72.55" y1="121.83" x2="76.25" y2="121.83" stroke="#000" stroke-width="0.95"/>
<line x1="370.60" y1="121.83" x2="366.90" y2="121.83" stroke="#000" stroke-width="0.95"/>
<line x1="72.55" y1="116.58" x2="80.55" y2="116.58" stroke="#000" stroke-width="0.95"/>
<line x1="370.60" y1="116.58" x2="362.60" y2="116.58" stroke="#000" stroke-width="0.95"/>
<line x1="72.55" y1="111.33" x2="76.25" y2="111.33" stroke="#000" stroke-width="0.95"/>
<line x1="370.60" y1="111.33" x2="366.90" y2="111.33" stroke="#000" stroke-width="0.95"/>
<line x1="72.55" y1="106.07" x2="76.25" y2="106.07" stroke="#000" stroke-width="0.95"/>
<line x1="370.60" y1="106.07" x2="366.90" y2="106.07" stroke="#000" stroke-width="0.95"/>
<line x1="72.55" y1="100.82" x2="76.25" y2="100.82" stroke="#000" stroke-width="0.95"/>
<line x1="370.60" y1="100.82" x2="366.90" y2="100.82" stroke="#000" stroke-width="0.95"/>
<line x1="72.55" y1="95.56" x2="76.25" y2="95.56" stroke="#000" stroke-width="0.95"/>
<line x1="370.60" y1="95.56" x2="366.90" y2="95.56" stroke="#000" stroke-width="0.95"/>
<line x1="72.55" y1="90.31" x2="80.55" y2="90.31" stroke="#000" stroke-width="0.95"/>
<line x1="370.60" y1="90.31" x2="362.60" y2="90.31" stroke="#000" stroke-width="0.95"/>
<line x1="72.55" y1="85.06" x2="76.25" y2="85.06" stroke="#000" stroke-width="0.95"/>
<line x1="370.60" y1="85.06" x2="366.90" y2="85.06" stroke="#000" stroke-width="0.95"/>
<line x1="72.55" y1="79.80" x2="76.25" y2="79.80" stroke="#000" stroke-width="0.95"/>
<line x1="370.60" y1="79.80" x2="366.90" y2="79.80" stroke="#000" stroke-width="0.95"/>
<line x1="72.55" y1="74.55" x2="76.25" y2="74.55" stroke="#000" stroke-width="0.95"/>
<line x1="370.60" y1="74.55" x2="366.90" y2="74.55" stroke="#000" stroke-width="0.95"/>
<line x1="72.55" y1="69.29" x2="76.25" y2="69.29" stroke="#000" stroke-width="0.95"/>
<line x1="370.60" y1="69.29" x2="366.90" y2="69.29" stroke="#000" stroke-width="0.95"/>
<line x1="72.55" y1="64.04" x2="80.55" y2="64.04" stroke="#000" stroke-width="0.95"/>
<line x1="370.60" y1="64.04" x2="362.60" y2="64.04" stroke="#000" stroke-width="0.95"/>
<line x1="72.55" y1="58.79" x2="76.25" y2="58.79" stroke="#000" stroke-width="0.95"/>
<line x1="370.60" y1="58.79" x2="366.90" y2="58.79" stroke="#000" stroke-width="0.95"/>
<line x1="72.55" y1="53.53" x2="76.25" y2="53.53" stroke="#000" stroke-width="0.95"/>
<line x1="370.60" y1="53.53" x2="366.90" y2="53.53" stroke="#000" stroke-width="0.95"/>
<line x1="72.55" y1="48.28" x2="76.25" y2="48.28" stroke="#000" stroke-width="0.95"/>
<line x1="370.60" y1="48.28" x2="366.90" y2="48.28" stroke="#000" stroke-width="0.95"/>
<line x1="72.55" y1="43.02" x2="76.25" y2="43.02" stroke="#000" stroke-width="0.95"/>
<line x1="370.60" y1="43.02" x2="366.90" y2="43.02" stroke="#000" stroke-width="0.95"/>
<line x1="72.55" y1="37.77" x2="80.55" y2="37.77" stroke="#000" stroke-width="0.95"/>
<line x1="370.60" y1="37.77" x2="362.60" y2="37.77" stroke="#000" stroke-width="0.95"/>
<line x1="72.55" y1="32.52" x2="76.25" y2="32.52" stroke="#000" stroke-width="0.95"/>
<line x1="370.60" y1="32.52" x2="366.90" y2="32.52" stroke="#000" stroke-width="0.95"/>
<line x1="72.55" y1="27.26" x2="76.25" y2="27.26" stroke="#000" stroke-width="0.95"/>
<line x1="370.60" y1="27.26" x2="366.90" y2="27.26" stroke="#000" stroke-width="0.95"/>
<line x1="72.55" y1="22.01" x2="76.25" y2="22.01" stroke="#000" stroke-width="0.95"/>
<line x1="370.60" y1="22.01" x2="366.90" y2="22.01" stroke="#000" stroke-width="0.95"/>
<line x1="72.55" y1="16.75" x2="76.25" y2="16.75" stroke="#000" stroke-width="0.95"/>
<line x1="370.60" y1="16.75" x2="366.90" y2="16.75" stroke="#000" stroke-width="0.95"/>
<text x="68.65" y="16.25" font-size="13.5" text-anchor="end" fill="#000"  transform="rotate(0.03 68.65 16.25)" style="">0.1</text>
<text x="68.65" y="42.52" font-size="13.5" text-anchor="end" fill="#000"  transform="rotate(0.03 68.65 42.52)" style="">0.08</text>
<text x="68.65" y="68.79" font-size="13.5" text-anchor="end" fill="#000"  transform="rotate(0.03 68.65 68.79)" style="">0.06</text>
<text x="68.65" y="95.06" font-size="13.5" text-anchor="end" fill="#000"  transform="rotate(0.03 68.65 95.06)" style="">0.04</text>
<text x="68.65" y="121.33" font-size="13.5" text-anchor="end" fill="#000"  transform="rotate(0.03 68.65 121.33)" style="">0.02</text>
<text x="68.65" y="147.61" font-size="13.5" text-anchor="end" fill="#000"  transform="rotate(0.03 68.65 147.61)" style="">0</text>
<rect x="72.55" y="11.5" width="298.05" height="144.5" fill="none" stroke="#000" stroke-width="1.08"/>
<line x1="75.15" y1="339.00" x2="75.15" y2="335.30" stroke="#000" stroke-width="0.95"/>
<line x1="75.15" y1="194.70" x2="75.15" y2="198.40" stroke="#000" stroke-width="0.95"/>
<line x1="84.12" y1="339.00" x2="84.12" y2="335.30" stroke="#000" stroke-width="0.95"/>
<line x1="84.12" y1="194.70" x2="84.12" y2="198.40" stroke="#000" stroke-width="0.95"/>
<line x1="93.08" y1="339.00" x2="93.08" y2="335.30" stroke="#000" stroke-width="0.95"/>
<line x1="93.08" y1="194.70" x2="93.08" y2="198.40" stroke="#000" stroke-width="0.95"/>
<line x1="102.04" y1="339.00" x2="102.04" y2="331.00" stroke="#000" stroke-width="0.95"/>
<line x1="102.04" y1="194.70" x2="102.04" y2="202.70" stroke="#000" stroke-width="0.95"/>
<text x="102.04" y="352.50" font-size="13.6" text-anchor="middle" fill="#000"  transform="rotate(0.03 102.04 352.50)" style="">0.08</text>
<line x1="111.00" y1="339.00" x2="111.00" y2="335.30" stroke="#000" stroke-width="0.95"/>
<line x1="111.00" y1="194.70" x2="111.00" y2="198.40" stroke="#000" stroke-width="0.95"/>
<line x1="119.96" y1="339.00" x2="119.96" y2="335.30" stroke="#000" stroke-width="0.95"/>
<line x1="119.96" y1="194.70" x2="119.96" y2="198.40" stroke="#000" stroke-width="0.95"/>
<line x1="128.93" y1="339.00" x2="128.93" y2="335.30" stroke="#000" stroke-width="0.95"/>
<line x1="128.93" y1="194.70" x2="128.93" y2="198.40" stroke="#000" stroke-width="0.95"/>
<line x1="137.89" y1="339.00" x2="137.89" y2="335.30" stroke="#000" stroke-width="0.95"/>
<line x1="137.89" y1="194.70" x2="137.89" y2="198.40" stroke="#000" stroke-width="0.95"/>
<line x1="146.85" y1="339.00" x2="146.85" y2="331.00" stroke="#000" stroke-width="0.95"/>
<line x1="146.85" y1="194.70" x2="146.85" y2="202.70" stroke="#000" stroke-width="0.95"/>
<text x="146.85" y="352.50" font-size="13.6" text-anchor="middle" fill="#000"  transform="rotate(0.03 146.85 352.50)" style="">0.1</text>
<line x1="155.81" y1="339.00" x2="155.81" y2="335.30" stroke="#000" stroke-width="0.95"/>
<line x1="155.81" y1="194.70" x2="155.81" y2="198.40" stroke="#000" stroke-width="0.95"/>
<line x1="164.77" y1="339.00" x2="164.77" y2="335.30" stroke="#000" stroke-width="0.95"/>
<line x1="164.77" y1="194.70" x2="164.77" y2="198.40" stroke="#000" stroke-width="0.95"/>
<line x1="173.74" y1="339.00" x2="173.74" y2="335.30" stroke="#000" stroke-width="0.95"/>
<line x1="173.74" y1="194.70" x2="173.74" y2="198.40" stroke="#000" stroke-width="0.95"/>
<line x1="182.70" y1="339.00" x2="182.70" y2="335.30" stroke="#000" stroke-width="0.95"/>
<line x1="182.70" y1="194.70" x2="182.70" y2="198.40" stroke="#000" stroke-width="0.95"/>
<line x1="191.66" y1="339.00" x2="191.66" y2="331.00" stroke="#000" stroke-width="0.95"/>
<line x1="191.66" y1="194.70" x2="191.66" y2="202.70" stroke="#000" stroke-width="0.95"/>
<text x="191.66" y="352.50" font-size="13.6" text-anchor="middle" fill="#000"  transform="rotate(0.03 191.66 352.50)" style="">0.12</text>
<line x1="200.62" y1="339.00" x2="200.62" y2="335.30" stroke="#000" stroke-width="0.95"/>
<line x1="200.62" y1="194.70" x2="200.62" y2="198.40" stroke="#000" stroke-width="0.95"/>
<line x1="209.58" y1="339.00" x2="209.58" y2="335.30" stroke="#000" stroke-width="0.95"/>
<line x1="209.58" y1="194.70" x2="209.58" y2="198.40" stroke="#000" stroke-width="0.95"/>
<line x1="218.55" y1="339.00" x2="218.55" y2="335.30" stroke="#000" stroke-width="0.95"/>
<line x1="218.55" y1="194.70" x2="218.55" y2="198.40" stroke="#000" stroke-width="0.95"/>
<line x1="227.51" y1="339.00" x2="227.51" y2="335.30" stroke="#000" stroke-width="0.95"/>
<line x1="227.51" y1="194.70" x2="227.51" y2="198.40" stroke="#000" stroke-width="0.95"/>
<line x1="236.47" y1="339.00" x2="236.47" y2="331.00" stroke="#000" stroke-width="0.95"/>
<line x1="236.47" y1="194.70" x2="236.47" y2="202.70" stroke="#000" stroke-width="0.95"/>
<text x="236.47" y="352.50" font-size="13.6" text-anchor="middle" fill="#000"  transform="rotate(0.03 236.47 352.50)" style="">0.14</text>
<line x1="245.43" y1="339.00" x2="245.43" y2="335.30" stroke="#000" stroke-width="0.95"/>
<line x1="245.43" y1="194.70" x2="245.43" y2="198.40" stroke="#000" stroke-width="0.95"/>
<line x1="254.39" y1="339.00" x2="254.39" y2="335.30" stroke="#000" stroke-width="0.95"/>
<line x1="254.39" y1="194.70" x2="254.39" y2="198.40" stroke="#000" stroke-width="0.95"/>
<line x1="263.36" y1="339.00" x2="263.36" y2="335.30" stroke="#000" stroke-width="0.95"/>
<line x1="263.36" y1="194.70" x2="263.36" y2="198.40" stroke="#000" stroke-width="0.95"/>
<line x1="272.32" y1="339.00" x2="272.32" y2="335.30" stroke="#000" stroke-width="0.95"/>
<line x1="272.32" y1="194.70" x2="272.32" y2="198.40" stroke="#000" stroke-width="0.95"/>
<line x1="281.28" y1="339.00" x2="281.28" y2="331.00" stroke="#000" stroke-width="0.95"/>
<line x1="281.28" y1="194.70" x2="281.28" y2="202.70" stroke="#000" stroke-width="0.95"/>
<text x="281.28" y="352.50" font-size="13.6" text-anchor="middle" fill="#000"  transform="rotate(0.03 281.28 352.50)" style="">0.16</text>
<line x1="290.24" y1="339.00" x2="290.24" y2="335.30" stroke="#000" stroke-width="0.95"/>
<line x1="290.24" y1="194.70" x2="290.24" y2="198.40" stroke="#000" stroke-width="0.95"/>
<line x1="299.20" y1="339.00" x2="299.20" y2="335.30" stroke="#000" stroke-width="0.95"/>
<line x1="299.20" y1="194.70" x2="299.20" y2="198.40" stroke="#000" stroke-width="0.95"/>
<line x1="308.17" y1="339.00" x2="308.17" y2="335.30" stroke="#000" stroke-width="0.95"/>
<line x1="308.17" y1="194.70" x2="308.17" y2="198.40" stroke="#000" stroke-width="0.95"/>
<line x1="317.13" y1="339.00" x2="317.13" y2="335.30" stroke="#000" stroke-width="0.95"/>
<line x1="317.13" y1="194.70" x2="317.13" y2="198.40" stroke="#000" stroke-width="0.95"/>
<line x1="326.09" y1="339.00" x2="326.09" y2="331.00" stroke="#000" stroke-width="0.95"/>
<line x1="326.09" y1="194.70" x2="326.09" y2="202.70" stroke="#000" stroke-width="0.95"/>
<text x="326.09" y="352.50" font-size="13.6" text-anchor="middle" fill="#000"  transform="rotate(0.03 326.09 352.50)" style="">0.18</text>
<line x1="335.05" y1="339.00" x2="335.05" y2="335.30" stroke="#000" stroke-width="0.95"/>
<line x1="335.05" y1="194.70" x2="335.05" y2="198.40" stroke="#000" stroke-width="0.95"/>
<line x1="344.01" y1="339.00" x2="344.01" y2="335.30" stroke="#000" stroke-width="0.95"/>
<line x1="344.01" y1="194.70" x2="344.01" y2="198.40" stroke="#000" stroke-width="0.95"/>
<line x1="352.98" y1="339.00" x2="352.98" y2="335.30" stroke="#000" stroke-width="0.95"/>
<line x1="352.98" y1="194.70" x2="352.98" y2="198.40" stroke="#000" stroke-width="0.95"/>
<line x1="361.94" y1="339.00" x2="361.94" y2="335.30" stroke="#000" stroke-width="0.95"/>
<line x1="361.94" y1="194.70" x2="361.94" y2="198.40" stroke="#000" stroke-width="0.95"/>
<text x="370.90" y="352.50" font-size="13.6" text-anchor="middle" fill="#000"  transform="rotate(0.03 370.90 352.50)" style="">0.2</text>
<line x1="72.55" y1="326.75" x2="76.25" y2="326.75" stroke="#000" stroke-width="0.95"/>
<line x1="370.60" y1="326.75" x2="366.90" y2="326.75" stroke="#000" stroke-width="0.95"/>
<line x1="72.55" y1="314.38" x2="76.25" y2="314.38" stroke="#000" stroke-width="0.95"/>
<line x1="370.60" y1="314.38" x2="366.90" y2="314.38" stroke="#000" stroke-width="0.95"/>
<line x1="72.55" y1="302.00" x2="76.25" y2="302.00" stroke="#000" stroke-width="0.95"/>
<line x1="370.60" y1="302.00" x2="366.90" y2="302.00" stroke="#000" stroke-width="0.95"/>
<line x1="72.55" y1="289.63" x2="76.25" y2="289.63" stroke="#000" stroke-width="0.95"/>
<line x1="370.60" y1="289.63" x2="366.90" y2="289.63" stroke="#000" stroke-width="0.95"/>
<line x1="72.55" y1="277.26" x2="80.55" y2="277.26" stroke="#000" stroke-width="0.95"/>
<line x1="370.60" y1="277.26" x2="362.60" y2="277.26" stroke="#000" stroke-width="0.95"/>
<line x1="72.55" y1="264.89" x2="76.25" y2="264.89" stroke="#000" stroke-width="0.95"/>
<line x1="370.60" y1="264.89" x2="366.90" y2="264.89" stroke="#000" stroke-width="0.95"/>
<line x1="72.55" y1="252.52" x2="76.25" y2="252.52" stroke="#000" stroke-width="0.95"/>
<line x1="370.60" y1="252.52" x2="366.90" y2="252.52" stroke="#000" stroke-width="0.95"/>
<line x1="72.55" y1="240.14" x2="76.25" y2="240.14" stroke="#000" stroke-width="0.95"/>
<line x1="370.60" y1="240.14" x2="366.90" y2="240.14" stroke="#000" stroke-width="0.95"/>
<line x1="72.55" y1="227.77" x2="76.25" y2="227.77" stroke="#000" stroke-width="0.95"/>
<line x1="370.60" y1="227.77" x2="366.90" y2="227.77" stroke="#000" stroke-width="0.95"/>
<line x1="72.55" y1="215.40" x2="80.55" y2="215.40" stroke="#000" stroke-width="0.95"/>
<line x1="370.60" y1="215.40" x2="362.60" y2="215.40" stroke="#000" stroke-width="0.95"/>
<line x1="72.55" y1="203.03" x2="76.25" y2="203.03" stroke="#000" stroke-width="0.95"/>
<line x1="370.60" y1="203.03" x2="366.90" y2="203.03" stroke="#000" stroke-width="0.95"/>
<text x="68.65" y="220.19" font-size="13.6" text-anchor="end" fill="#000"  transform="rotate(0.03 68.65 220.19)" style="">0</text>
<text x="68.65" y="282.05" font-size="13.6" text-anchor="end" fill="#000"  transform="rotate(0.03 68.65 282.05)" style="">-0.003</text>
<text x="68.65" y="343.91" font-size="13.6" text-anchor="end" fill="#000"  transform="rotate(0.03 68.65 343.91)" style="">-0.006</text>
<rect x="72.55" y="194.7" width="298.05" height="144.3" fill="none" stroke="#000" stroke-width="1.08"/>
<text x="223.30" y="181.70" font-size="19.4" text-anchor="middle" fill="#000"  transform="rotate(0.03 223.30 181.70)" style="font-style:italic">x</text>
<text x="221.50" y="364.70" font-size="18.2" text-anchor="middle" fill="#000"  transform="rotate(0.03 221.50 364.70)" style="font-style:italic">x</text>
<text x="92.20" y="53.30" font-size="17.2" text-anchor="start" fill="#000"  transform="rotate(0.03 92.20 53.30)" style="">ν</text>
<text x="104.00" y="55.00" font-size="16.5" text-anchor="start" fill="#000"  transform="rotate(0.03 104.00 55.00)" style="">=</text>
<text x="118.00" y="53.30" font-size="16.5" text-anchor="start" fill="#000"  transform="rotate(0.03 118.00 53.30)" style="">0.01</text>
<text x="94.30" y="255.50" font-size="16.2" text-anchor="start" fill="#000"  transform="rotate(0.03 94.30 255.50)" style="">ν</text>
<text x="105.50" y="257.10" font-size="15.5" text-anchor="start" fill="#000"  transform="rotate(0.03 105.50 257.10)" style="">=</text>
<text x="118.00" y="255.50" font-size="15.2" text-anchor="start" fill="#000"  transform="rotate(0.03 118.00 255.50)" style="">0.01</text>
<text x="284.10" y="31.10" font-size="16.6" text-anchor="start" fill="#000"  transform="rotate(0.03 284.10 31.10)" style="">3PN</text>
<text x="307.30" y="59.30" font-size="16.6" text-anchor="start" fill="#008a00"  transform="rotate(0.03 307.30 59.30)" style="">4PN</text>
<text x="310.50" y="100.80" font-size="16.6" text-anchor="start" fill="#ff0000"  transform="rotate(0.03 310.50 100.80)" style="">5PN</text>
<text x="339.30" y="130.00" font-size="16.6" text-anchor="start" fill="#0000ff"  transform="rotate(0.03 339.30 130.00)" style="">6PN</text>
<text x="291.70" y="216.80" font-size="15.4" text-anchor="start" fill="#0000ff"  transform="rotate(0.03 291.70 216.80)" style="">EOB(6PN)</text>
<text x="227.00" y="259.10" font-size="15.4" text-anchor="start" fill="#ff0000"  transform="rotate(0.03 227.00 259.10)" style="">EOB(5PN)</text>
<text x="256.50" y="287.90" font-size="15.4" text-anchor="start" fill="#000"  transform="rotate(0.03 256.50 287.90)" style="">EOB(3PN)</text>
<text x="263.50" y="306.40" font-size="15.4" text-anchor="start" fill="#008a00"  transform="rotate(0.03 263.50 306.40)" style="">EOB(4PN)</text>
<line x1="297.50" y1="256.10" x2="312.00" y2="256.10" stroke="#ff0000" stroke-width="1.4"/>
<path d="M315.00,256.10 L309.40,253.50 L310.40,256.10 L309.40,258.70 Z" fill="#ff0000"/>
<line x1="328.70" y1="283.10" x2="343.40" y2="283.10" stroke="#000" stroke-width="1.4"/>
<path d="M346.40,283.10 L340.80,280.50 L341.80,283.10 L340.80,285.70 Z" fill="#000"/>
<line x1="334.20" y1="302.90" x2="361.20" y2="302.90" stroke="#008a00" stroke-width="1.4"/>
<path d="M364.20,302.90 L358.60,300.30 L359.60,302.90 L358.60,305.50 Z" fill="#008a00"/>
<g transform="translate(33.00,119.00) rotate(-90)"><text x="0.30" y="0.00" font-size="18.6" fill="#000" style="font-style:italic">E</text><text x="9.00" y="7.60" font-size="11.73" fill="#000" style="font-style:italic">n</text><text x="13.90" y="7.60" font-size="13.8" fill="#000" style="">P</text><text x="21.30" y="7.60" font-size="13.8" fill="#000" style="">N</text><text x="40.00" y="0.00" font-size="18.6" fill="#000" style="font-style:italic">E</text><text x="53.60" y="0.00" font-size="18.6" fill="#000" style="">-</text><text x="64.70" y="0.00" font-size="18.6" fill="#000" style="">1</text><path d="M32.90,-0.30 L38.20,-12.50" stroke="#000" stroke-width="1.40" fill="none"/><path d="M5.10,-15.60 L7.10,-19.90 L9.10,-15.60" fill="none" stroke="#000" stroke-width="0.80"/><path d="M44.80,-15.60 L46.80,-19.90 L48.80,-15.60" fill="none" stroke="#000" stroke-width="0.80"/></g>
<g transform="translate(21.60,302.50) rotate(-90)"><text x="0.29" y="0.00" font-size="18.3" fill="#000" style="font-style:italic">E</text><text x="9.70" y="7.47" font-size="11.73" fill="#000" style="font-style:italic">n</text><text x="14.90" y="7.47" font-size="13.8" fill="#000" style="">P</text><text x="23.00" y="7.47" font-size="13.8" fill="#000" style="">N</text><text x="39.82" y="0.00" font-size="18.3" fill="#000" style="font-style:italic">E</text><text x="53.49" y="0.00" font-size="18.3" fill="#000" style="">-</text><text x="63.60" y="0.00" font-size="18.3" fill="#000" style="">1</text><path d="M32.34,-0.29 L37.55,-12.29" stroke="#000" stroke-width="1.38" fill="none"/><path d="M5.01,-15.33 L6.98,-19.56 L8.95,-15.33" fill="none" stroke="#000" stroke-width="0.79"/><path d="M44.54,-15.33 L46.50,-19.56 L48.47,-15.33" fill="none" stroke="#000" stroke-width="0.79"/></g>
</svg>
</body></html>
